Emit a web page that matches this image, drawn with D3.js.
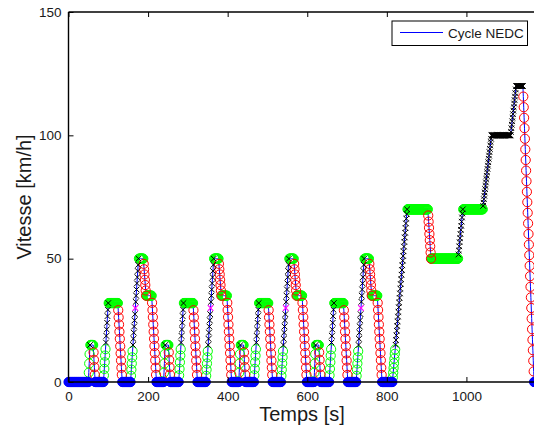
<!DOCTYPE html>
<html><head><meta charset="utf-8">
<script src="https://cdn.jsdelivr.net/npm/d3@7"></script>
<style>body{margin:0;background:#fff}svg{display:block}text{font-family:"Liberation Sans",Arial,sans-serif}</style>
</head><body>
<script>
// ---- data (1 sample per second) ----
const prefixIdle = [0,0,0,0,0,0,0,0,0,0, 0,0,0,0,0,0,0,0,0,0, 0,0,0,0,0,0,0,0,0,0, 0,0,0];
const eceCycle = [
0,0,0,0,0,0,0,0,0,0,
0,0,0,0,0,0,0,0,3.8,7.5,
11.3,15,15,15,15,15,15,15,15,15,
12,9,6,3,0,0,0,0,0,0,
0,0,0,0,0,0,0,0,0,0,
0,0,0,0,0,0,2.7,5.3,8,10.7,
13.3,16,18.7,21.3,24,26.7,29.3,32,32,32,
32,32,32,32,32,32,32,32,32,32,
32,32,32,32,32,32,32,32,32,32,
32,32,29.1,26.2,23.3,20.4,17.5,14.5,11.6,8.7,
5.8,2.9,0,0,0,0,0,0,0,0,
0,0,0,0,0,0,0,0,0,0,
0,0,0,0,2.5,5,7.5,10,12.5,15,
17.5,20,22.5,25,27.5,30,32.5,35,37.5,40,
42.5,45,47.5,50,50,50,50,50,50,50,
50,50,50,50,50,50,47.9,45.7,43.6,41.4,
39.3,37.1,35,35,35,35,35,35,35,35,
35,35,35,35,35,35,35,32.1,29.2,26.3,
23.3,20.4,17.5,14.6,11.7,8.8,5.8,2.9,0
];
const eudcCycle = [
0,0,0,0,0,0,0,0,0,0,
0,0,0,0,0,0,0,0,0,0,
0,0,0,0,0,0,
1.9,3.8,5.7,7.6,9.5,11.4,13.2,15.1,17,18.9,
20.8,22.7,24.6,26.5,28.4,30.3,32.2,34.1,35.9,37.8,
39.7,41.6,43.5,45.4,47.3,49.2,51.1,53,54.9,56.8,
58.6,60.5,62.4,64.3,66.2,68.1,70,
70,70,70,70,70,70,70,70,70,70,
70,70,70,70,70,70,70,70,70,70,
70,70,70,70,70,70,70,70,70,70,
70,70,70,70,70,70,70,70,70,70,
70,70,70,70,70,70,70,70,70,70,
70,70,
67.5,65,62.5,60,57.5,55,52.5,50,
50,50,50,50,50,50,50,50,50,50,
50,50,50,50,50,50,50,50,50,50,
50,50,50,50,50,50,50,50,50,50,
50,50,50,50,50,50,50,50,50,50,
50,50,50,50,50,50,50,50,50,50,
50,50,50,50,50,50,50,50,50,50,
50,50,50,50,50,50,50,50,
51.7,53.3,55,56.7,58.3,60,61.7,63.3,65,66.7,68.3,70,
70,70,70,70,70,70,70,70,70,70,
70,70,70,70,70,70,70,70,70,70,
70,70,70,70,70,70,70,70,70,70,
70,70,70,70,70,70,70,70,70,70,
70,70,70,70,70,70,70,70,70,70,
71.4,72.7,74.1,75.5,76.8,78.2,79.5,80.9,82.3,83.6,
85,86.4,87.7,89.1,90.5,91.8,93.2,94.5,95.9,97.3,
98.6,100,
100,100,100,100,100,100,100,100,100,100,
100,100,100,100,100,100,100,100,100,100,
100,100,100,100,100,100,100,100,100,100,
100,100,100,100,100,100,100,100,100,100,
100,100,100,100,100,100,100,100,
101.4,102.9,104.3,105.7,107.1,108.6,110,111.4,112.9,114.3,
115.7,117.1,118.6,120,
120,120,120,120,120,120,120,120,120,120,
120,120,120,120,120,120,120,
115.7,111.4,107.1,102.9,98.6,94.3,90,85.7,81.4,77.1,
72.9,68.6,64.3,60,55.7,51.4,47.1,42.9,38.6,34.3,
30,25.7,21.4,17.1,12.9,8.6,4.3,0,
0,0,0,0,0,0,0,0,0,0,
0,0,0,0,0,0,0,0,0,0
];
const magentaTimes = [168, 357, 546, 735];
const xTicks = [0, 200, 400, 600, 800, 1000];
const yTicks = [0, 50, 100, 150];
const xLabel = "Temps [s]";
const yLabel = "Vitesse [km/h]";
const legendLabel = "Cycle NEDC";

// ---- build ----
const speed = prefixIdle.concat(eceCycle, eceCycle, eceCycle, eceCycle, eudcCycle);
const pts = speed.map((v, i) => ({t: i, v: v, prev: i > 0 ? speed[i - 1] : v}));
function mode(p) {
  if (magentaTimes.includes(p.t)) return "m";
  if (p.v === 0) return "b";
  if (p.v < p.prev) return "r";
  if (p.v > p.prev) return p.v < 14 ? "g" : "k";
  return p.v >= 100 ? "k" : "g";
}
pts.forEach(p => p.mode = mode(p));

const W = 534, H = 428;
const svg = d3.select("body").append("svg").attr("width", W).attr("height", H);
const x = d3.scaleLinear().domain([0, 1200]).range([68.5, 546]);
const y = d3.scaleLinear().domain([0, 150]).range([382, 12]);

// line
svg.append("path").datum(pts)
  .attr("d", d3.line().x(d => x(d.t)).y(d => y(d.v)))
  .attr("fill", "none").attr("stroke", "#0000ff").attr("stroke-width", 1);

const R = 4.6;
svg.append("g").selectAll("circle").data(pts.filter(p => p.mode === "g")).join("circle")
  .attr("cx", d => x(d.t)).attr("cy", d => y(d.v)).attr("r", R)
  .attr("fill", "none").attr("stroke", "#00ff00").attr("stroke-width", 1);
svg.append("g").selectAll("circle").data(pts.filter(p => p.mode === "r")).join("circle")
  .attr("cx", d => x(d.t)).attr("cy", d => y(d.v)).attr("r", R)
  .attr("fill", "none").attr("stroke", "#ff0000").attr("stroke-width", 1);
const xMark = (s) => `M${-s},${-s}L${s},${s}M${-s},${s}L${s},${-s}`;
svg.append("g").selectAll("path").data(pts.filter(p => p.mode === "k")).join("path")
  .attr("transform", d => `translate(${x(d.t)},${y(d.v)})`).attr("d", xMark(2.8))
  .attr("fill", "none").attr("stroke", "#000").attr("stroke-width", 1);
svg.append("g").selectAll("path").data(pts.filter(p => p.mode === "m")).join("path")
  .attr("transform", d => `translate(${x(d.t)},${y(d.v)})`).attr("d", xMark(2.8))
  .attr("fill", "none").attr("stroke", "#ff00ff").attr("stroke-width", 1.2);
svg.append("g").selectAll("circle").data(pts.filter(p => p.mode === "b")).join("circle")
  .attr("cx", d => x(d.t)).attr("cy", d => y(d.v)).attr("r", R)
  .attr("fill", "#0000ff").attr("stroke", "#0000ff").attr("stroke-width", 0.8);

// axes
const ax = svg.append("g").attr("stroke", "#000").attr("stroke-width", 1.4).attr("fill", "none");
ax.append("line").attr("x1", x(0)).attr("x2", x(1200)).attr("y1", y(0)).attr("y2", y(0));
ax.append("line").attr("x1", x(0)).attr("x2", x(1200)).attr("y1", y(150)).attr("y2", y(150));
ax.append("line").attr("x1", x(0)).attr("x2", x(0)).attr("y1", y(0)).attr("y2", y(150));

const xb = svg.append("g").attr("transform", `translate(0,${y(0)})`)
  .call(d3.axisBottom(x).tickValues(xTicks).tickSizeInner(-5).tickSizeOuter(0).tickPadding(9).tickFormat(d3.format("d")));
const xt = svg.append("g").attr("transform", `translate(0,${y(150)})`)
  .call(d3.axisTop(x).tickValues(xTicks).tickSizeInner(-5).tickSizeOuter(0).tickFormat(""));
const yl = svg.append("g").attr("transform", `translate(${x(0)},0)`)
  .call(d3.axisLeft(y).tickValues(yTicks).tickSizeInner(-5).tickSizeOuter(0).tickPadding(7).tickFormat(d3.format("d")));
[xb, xt, yl].forEach(g => {
  g.select(".domain").remove();
  g.selectAll(".tick line").attr("stroke", "#000").attr("stroke-width", 1);
  g.selectAll(".tick text").attr("font-size", 13.5).attr("fill", "#1a1a1a")
   .attr("font-family", '"Liberation Sans",Arial,sans-serif');
});

svg.append("text").attr("x", 302).attr("y", 421).attr("text-anchor", "middle")
  .attr("font-size", 20).attr("fill", "#1a1a1a").text(xLabel);
svg.append("text").attr("transform", `translate(31,197) rotate(-90)`).attr("text-anchor", "middle")
  .attr("font-size", 20).attr("fill", "#1a1a1a").text(yLabel);

// legend
const lg = svg.append("g");
lg.append("rect").attr("x", 392).attr("y", 21).attr("width", 135.5).attr("height", 24.5)
  .attr("fill", "#fff").attr("stroke", "#000").attr("stroke-width", 1);
lg.append("line").attr("x1", 400).attr("x2", 443).attr("y1", 32.5).attr("y2", 32.5)
  .attr("stroke", "#0000ff").attr("stroke-width", 1);
lg.append("text").attr("x", 448).attr("y", 37.5).attr("font-size", 13.5).attr("fill", "#1a1a1a").text(legendLabel);
</script>
</body></html>
